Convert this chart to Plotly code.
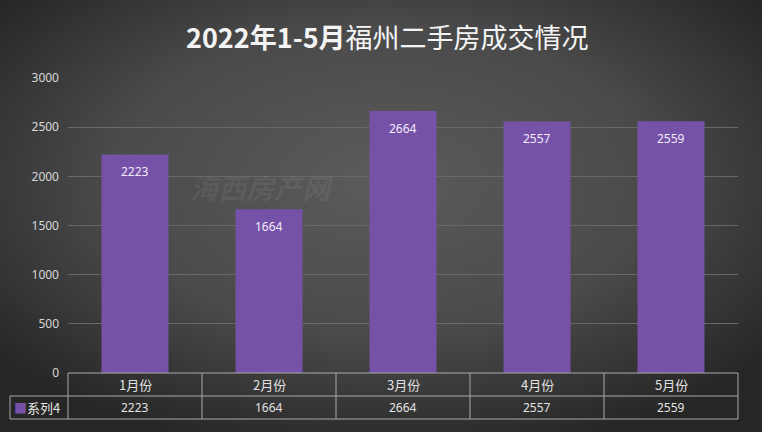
import base64
import plotly.graph_objects as go

# 数据
months = ["1月份", "2月份", "3月份", "4月份", "5月份"]
deals = [2223, 1664, 2664, 2557, 2559]
series_name = "系列4"
title_bold = "2022年1-5月"
title_rest = "福州二手房成交情况"
y_ticks = [0, 500, 1000, 1500, 2000, 2500, 3000]

W, H = 762, 432
L, R, T, B = 68, 24, 78, 59
PW, PH = W - L - R, H - T - B

BAR = "#7651a8"
GRID = "#686868"
LINE = "#a9a9a9"
TXT = "#e2e2e2"
FONT = "Noto Sans CJK SC"


def px(xp):
    return (xp - L) / PW


def py(yp):
    return (H - B - yp) / PH


# fond: dégradé radial sombre (svg inline)
svg = f"""<svg xmlns='http://www.w3.org/2000/svg' width='{W}' height='{H}'>
<defs><radialGradient id='g' cx='50%' cy='42%' r='65%'>
<stop offset='0%' stop-color='#5b5b5b'/>
<stop offset='55%' stop-color='#4a4a4a'/>
<stop offset='100%' stop-color='#262626'/>
</radialGradient></defs>
<rect width='{W}' height='{H}' fill='url(#g)'/></svg>"""
bg = "data:image/svg+xml;base64," + base64.b64encode(svg.encode()).decode()

fig = go.Figure()
fig.add_trace(go.Bar(
    x=months, y=deals, name=series_name,
    marker=dict(color=BAR, line=dict(width=0)),
    width=0.5,
    hoverinfo="skip",
))

shapes = []
# lignes horizontales du tableau
for yp, x0 in [(373, L), (396, 10), (419, 10)]:
    shapes.append(dict(type="line", xref="paper", yref="paper",
                       x0=px(x0), x1=px(W - R), y0=py(yp), y1=py(yp),
                       line=dict(color=LINE, width=1)))
# lignes verticales
for k in range(len(months) + 1):
    xp = L + PW * k / len(months)
    shapes.append(dict(type="line", xref="paper", yref="paper",
                       x0=px(xp), x1=px(xp), y0=py(373), y1=py(419),
                       line=dict(color=LINE, width=1)))
shapes.append(dict(type="line", xref="paper", yref="paper",
                   x0=px(10), x1=px(10), y0=py(396), y1=py(419),
                   line=dict(color=LINE, width=1)))

annotations = [
    dict(text=f"<b>{title_bold}</b>{title_rest}", xref="paper", yref="paper",
         x=px(387), y=py(37), showarrow=False, xanchor="center", yanchor="middle",
         font=dict(size=27, color="#f4f4f4", family=FONT)),
    dict(text="<b><i>海西房产网</i></b>", xref="paper", yref="paper",
         x=px(262), y=py(187), showarrow=False, xanchor="center", yanchor="middle",
         font=dict(size=28, color="rgba(255,255,255,0.07)", family=FONT)),
    dict(text=f"<span style='color:{BAR}'>■</span>{series_name}",
         xref="paper", yref="paper", x=px(12), y=py(407.5), xanchor="left",
         yanchor="middle", showarrow=False,
         font=dict(size=13, color=TXT, family=FONT)),
]
for i, (m, v) in enumerate(zip(months, deals)):
    cx = L + PW * (i + 0.5) / len(months)
    # étiquette dans la barre
    annotations.append(dict(text=str(v), x=m, y=v, xref="x", yref="y",
                            xanchor="center", yanchor="middle", yshift=-17,
                            showarrow=False,
                            font=dict(size=12, color="#f2ecfa", family="Noto Sans")))
    annotations.append(dict(text=m, xref="paper", yref="paper", x=px(cx), y=py(384.5),
                            xanchor="center", yanchor="middle", showarrow=False,
                            font=dict(size=13, color=TXT, family=FONT)))
    annotations.append(dict(text=str(v), xref="paper", yref="paper", x=px(cx), y=py(407.5),
                            xanchor="center", yanchor="middle", showarrow=False,
                            font=dict(size=12, color=TXT, family="Noto Sans")))

fig.update_layout(
    width=W, height=H,
    margin=dict(l=L, r=R, t=T, b=B),
    paper_bgcolor="#404040",
    plot_bgcolor="rgba(0,0,0,0)",
    showlegend=False,
    images=[dict(source=bg, xref="paper", yref="paper", x=px(0), y=py(0),
                 sizex=W / PW, sizey=H / PH, xanchor="left", yanchor="top",
                 sizing="stretch", layer="below")],
    shapes=shapes,
    annotations=annotations,
    font=dict(family=FONT, color=TXT),
)
fig.update_xaxes(showticklabels=False, showgrid=False, showline=False, zeroline=False,
                 range=[-0.5, len(months) - 0.5])
fig.update_yaxes(range=[0, 3000], tickvals=y_ticks, showgrid=True, gridcolor=GRID,
                 gridwidth=1, zeroline=False, showline=False, ticks="",
                 ticklabelstandoff=8,
                 tickfont=dict(size=12, color="#d8d8d8", family="Noto Sans"))

fig.write_html("out.html", config={"displayModeBar": False},
               post_script="document.body.style.margin='0';")
